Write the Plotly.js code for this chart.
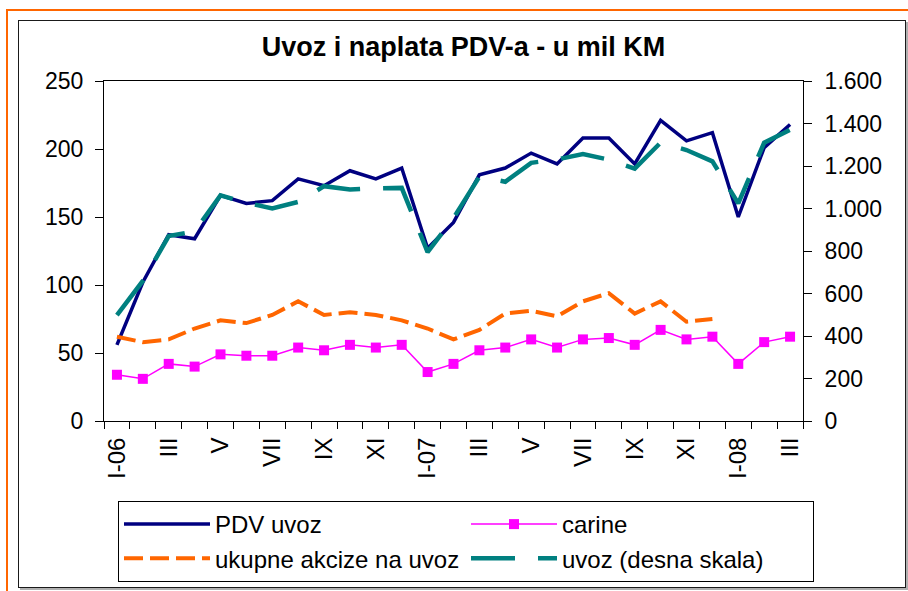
<!DOCTYPE html>
<html>
<head>
<meta charset="utf-8">
<script src="https://cdn.plot.ly/plotly-3.0.1.min.js"></script>
<style>
  html, body { margin: 0; padding: 0; background: #fff; }
  #wrap { position: relative; width: 908px; height: 591px; overflow: hidden; }
  #chart { position: absolute; left: 0; top: 0; width: 908px; height: 591px; }
  .frame { position: absolute; pointer-events: none; box-sizing: border-box; }
</style>
</head>
<body>
<div id="wrap">
  <div id="chart"></div>
  <div class="frame" style="left:6px; top:9px; width:910px; height:600px; border-left:2px solid #FF6600; border-top:2px solid #FF6600;"></div>
  <div class="frame" style="left:18px; top:20px; width:888px; height:568px; border:1.5px solid #1a1a1a; box-shadow:2px 2px 0 #b0b0b0;"></div>
</div>
<script>
// months (categories)
const months = ['I-06','II-06','III-06','IV-06','V-06','VI-06','VII-06','VIII-06','IX-06','X-06','XI-06','XII-06',
                'I-07','II-07','III-07','IV-07','V-07','VI-07','VII-07','VIII-07','IX-07','X-07','XI-07','XII-07',
                'I-08','II-08','III-08'];
// tick labels shown under the axis
const tickLabels = ['I-06','','III','','V','','VII','','IX','','XI','',
                    'I-07','','III','','V','','VII','','IX','','XI','',
                    'I-08','','III'];
// series (mil KM)
const pdvUvoz = [56, 102, 137, 134, 166, 160, 162, 178, 173, 184, 178, 186,
                 127, 146, 181, 186, 197, 189, 208, 208, 189, 221, 206, 212,
                 150, 201, 218];
const carine  = [34, 31, 42, 40, 49, 48, 48, 54, 52, 56, 54, 56,
                 36, 42, 52, 54, 60, 54, 60, 61, 56, 67, 60, 62,
                 42, 58, 62];
const akcize  = [62, 58, 60, 68, 74, 72, 78, 88, 78, 80, 78, 74,
                 68, 60, 67, 79, 81, 77, 88, 94, 79, 88, 73, 75,
                 null, null, null];
const uvoz    = [498, 659, 870, 893, 1062, 1027, 1000, 1031, 1105, 1090, 1095, 1097,
                 795, 955, 1150, 1126, 1215, 1231, 1256, 1230, 1188, 1310, 1275, 1222,
                 1024, 1310, 1370];

const FONT = 'Liberation Sans, Arial, sans-serif';

const traces = [
  { x: months, y: pdvUvoz, name: 'PDV uvoz', type: 'scatter', mode: 'lines',
    line: { color: '#000080', width: 3.5 } },
  { x: months, y: carine, name: 'carine', type: 'scatter', mode: 'lines+markers',
    line: { color: '#FF00FF', width: 1.5 },
    marker: { symbol: 'square', size: 10, color: '#FF00FF' } },
  { x: months, y: akcize, name: 'ukupne akcize na uvoz', type: 'scatter', mode: 'lines',
    line: { color: '#FF6600', width: 4, dash: '19px,7px' } },
  { x: months, y: uvoz, name: 'uvoz (desna skala)', type: 'scatter', mode: 'lines', yaxis: 'y2',
    line: { color: '#008080', width: 4.5, dash: '44px,23px' } }
];

const nCat = months.length;

const layout = {
  width: 908, height: 591,
  margin: { l: 104, r: 105, t: 81, b: 170, autoexpand: false },
  paper_bgcolor: '#ffffff', plot_bgcolor: '#ffffff',
  separators: ',.',
  font: { family: FONT, color: '#000' },
  showlegend: true,
  title: { text: 'Uvoz i naplata PDV-a - u mil KM', font: { family: FONT, size: 27, color: '#000', weight: 'bold' },
           x: 0.5105, xref: 'container', xanchor: 'center', y: 1 - 47/591, yref: 'container', yanchor: 'middle' },
  xaxis: {
    type: 'category', range: [-0.5, nCat - 0.5],
    tickmode: 'array', tickvals: months, ticktext: tickLabels,
    tickson: 'boundaries', ticks: 'outside', ticklen: 7, tickwidth: 1, tickcolor: '#000',
    showline: true, linecolor: '#000', linewidth: 1, mirror: true,
    showgrid: false, zeroline: false, tickangle: -90, ticklabelstandoff: 6,
    tickfont: { family: FONT, size: 24, color: '#000' }
  },
  xaxis3: {
    overlaying: 'x', anchor: 'y', range: [-0.5, nCat - 0.5],
    tickmode: 'linear', tick0: -0.5, dtick: 1,
    ticks: 'inside', ticklen: 7, tickwidth: 1, tickcolor: '#000',
    showticklabels: false, showline: false, showgrid: false, zeroline: false
  },
  yaxis: {
    range: [0, 250], dtick: 50, ticks: 'outside', ticklen: 8, tickwidth: 1, tickcolor: '#000',
    showline: true, linecolor: '#000', linewidth: 1, showgrid: false, zeroline: false,
    ticklabelstandoff: 7,
    tickfont: { family: FONT, size: 23, color: '#000' }
  },
  yaxis2: {
    overlaying: 'y', side: 'right', range: [0, 1600], dtick: 200, tickformat: ',d',
    ticks: 'outside', ticklen: 8, tickwidth: 1, tickcolor: '#000',
    showline: true, linecolor: '#000', linewidth: 1, showgrid: false, zeroline: false,
    ticklabelstandoff: 8,
    tickfont: { family: FONT, size: 23, color: '#000' }
  },
  yaxis3: {
    overlaying: 'y', side: 'left', range: [0, 250], dtick: 50,
    ticks: 'inside', ticklen: 8, tickwidth: 1, tickcolor: '#000',
    showticklabels: false, showline: false, showgrid: false, zeroline: false
  },
  yaxis4: {
    overlaying: 'y', side: 'right', range: [0, 1600], dtick: 200,
    ticks: 'inside', ticklen: 8, tickwidth: 1, tickcolor: '#000',
    showticklabels: false, showline: false, showgrid: false, zeroline: false
  },
  legend: {
    orientation: 'h', x: (118 - 104) / 699, xanchor: 'left', y: -(501 - 421) / 340, yanchor: 'top',
    bgcolor: '#fff', bordercolor: '#000', borderwidth: 1,
    font: { family: FONT, size: 24, color: '#000' },
    itemwidth: 86, entrywidth: 246, entrywidthmode: 'pixels', traceorder: 'normal'
  }
};

Plotly.newPlot('chart', traces, layout, { displayModeBar: false, staticPlot: true });
</script>
</body>
</html>
